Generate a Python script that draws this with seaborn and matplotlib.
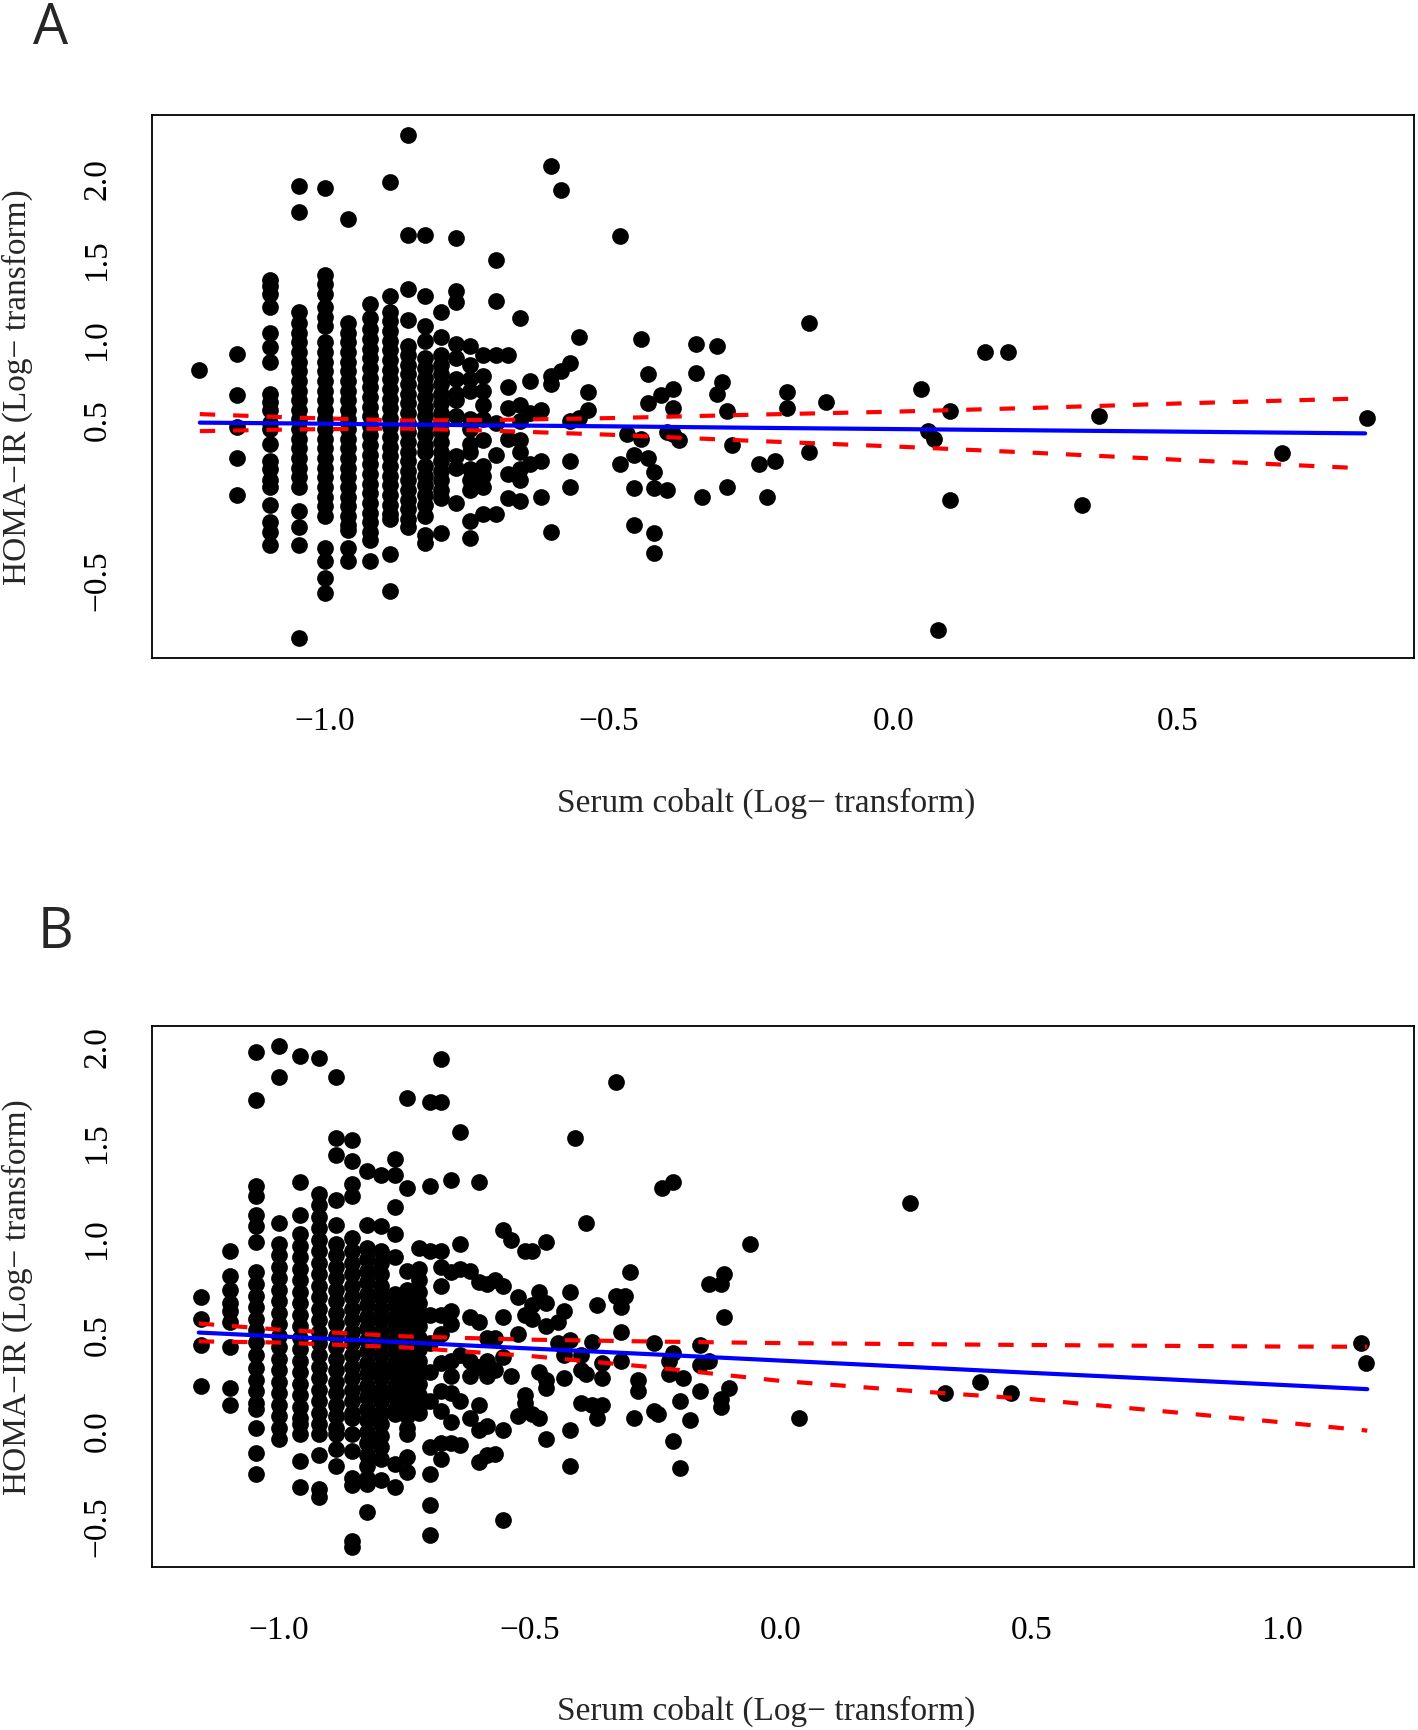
import numpy as np
import pandas as pd
import seaborn as sns
import matplotlib.pyplot as plt

sns.set_style("white")
plt.rcParams["font.family"] = ["Liberation Serif", "DejaVu Serif"]

# ---- Panel A: serum cobalt level (ug/L) and HOMA-IR (log) values at each level
a_cobalt = [0.06, 0.07, 0.08, 0.09, 0.10, 0.11, 0.12, 0.13, 0.14, 0.15, 0.16, 0.17,
            0.18, 0.19, 0.20, 0.21, 0.22, 0.23, 0.24, 0.25, 0.26, 0.27, 0.28, 0.29,
            0.33, 0.34, 0.35, 0.36, 0.37, 0.38, 0.39, 0.40, 0.41, 0.42, 0.45, 0.46,
            0.49, 0.50, 0.51, 0.52, 0.58, 0.60, 0.62, 0.65, 0.71, 0.76, 1.12, 1.15,
            1.18, 1.20, 1.26, 1.45, 1.59, 2.15, 2.30, 4.82, 6.82]
a_homa = [
    [0.81],
    [0.91, 0.65, 0.45, 0.26, 0.03],
    [1.37, 1.33, 1.28, 1.20, 1.04, 0.95, 0.86, 0.66, 0.61, 0.56, 0.48, 0.44, 0.35,
     0.24, 0.19, 0.12, 0.08, -0.03, -0.14, -0.20, -0.28],
    [1.95, 1.79, 1.17, 1.10, 1.04, 0.98, 0.92, 0.86, 0.80, 0.74, 0.68, 0.62, 0.56,
     0.50, 0.44, 0.38, 0.32, 0.26, 0.20, 0.14, 0.08, -0.07, -0.17, -0.28, -0.86],
    [1.94, 1.40, 1.34, 1.28, 1.20, 1.14, 1.08, 0.98, 0.92, 0.86, 0.80, 0.74, 0.68,
     0.62, 0.56, 0.50, 0.44, 0.38, 0.32, 0.26, 0.20, 0.14, 0.08, 0.02, -0.04, -0.10,
     -0.30, -0.38, -0.49, -0.58],
    [1.75, 1.10, 1.04, 0.98, 0.92, 0.86, 0.80, 0.74, 0.68, 0.62, 0.56, 0.50, 0.44,
     0.38, 0.32, 0.26, 0.20, 0.14, 0.08, 0.02, -0.04, -0.10, -0.16, -0.19, -0.30, -0.38],
    [1.22, 1.13, 1.06, 1.00, 0.94, 0.88, 0.82, 0.76, 0.70, 0.64, 0.58, 0.52, 0.46,
     0.40, 0.34, 0.28, 0.22, 0.16, 0.10, 0.04, -0.02, -0.08, -0.14, -0.20, -0.25, -0.38],
    [1.98, 1.27, 1.17, 1.11, 1.05, 0.99, 0.93, 0.87, 0.81, 0.75, 0.69, 0.63, 0.57,
     0.51, 0.45, 0.39, 0.33, 0.27, 0.21, 0.15, 0.09, 0.03, -0.03, -0.09, -0.12,
     -0.34, -0.57],
    [2.27, 1.65, 1.31, 1.12, 0.96, 0.90, 0.84, 0.78, 0.72, 0.66, 0.60, 0.54, 0.48,
     0.42, 0.36, 0.30, 0.24, 0.18, 0.12, 0.06, 0.00, -0.06, -0.12, -0.17],
    [1.65, 1.27, 1.08, 0.99, 0.88, 0.82, 0.76, 0.70, 0.64, 0.58, 0.52, 0.46, 0.40,
     0.34, 0.30, 0.21, 0.15, 0.09, 0.03, -0.03, -0.10, -0.22, -0.27],
    [1.17, 1.01, 0.90, 0.84, 0.78, 0.72, 0.66, 0.60, 0.54, 0.48, 0.42, 0.36, 0.30,
     0.24, 0.18, 0.12, 0.06, 0.01, -0.21],
    [1.63, 1.30, 1.23, 0.97, 0.88, 0.75, 0.66, 0.62, 0.52, 0.27, 0.20, -0.02],
    [0.96, 0.84, 0.75, 0.68, 0.50, 0.44, 0.35, 0.30, 0.19, 0.12, 0.06, -0.13, -0.24],
    [0.90, 0.77, 0.68, 0.59, 0.50, 0.37, 0.21, 0.15, 0.08, -0.09],
    [1.49, 1.24, 0.90, 0.48, 0.28, -0.09],
    [0.90, 0.70, 0.57, 0.38, 0.16, 0.01],
    [1.13, 0.59, 0.49, 0.37, 0.30, 0.19, 0.12, -0.01],
    [0.74, 0.54, 0.22],
    [0.56, 0.24, 0.02],
    [2.08, 0.77, 0.72, -0.20],
    [1.93, 0.80],
    [0.85, 0.49, 0.24, 0.08],
    [1.01, 0.51],
    [0.67, 0.56],
    [1.64, 0.22],
    [0.41],
    [0.28, 0.07, -0.16],
    [1.00, 0.38],
    [0.78, 0.60, 0.26],
    [0.17, 0.07, -0.21, -0.33],
    [0.65],
    [0.42, 0.06],
    [0.69, 0.57, 0.41],
    [0.37],
    [0.97, 0.79],
    [0.02],
    [0.96, 0.66],
    [0.73],
    [0.55, 0.08],
    [0.34],
    [0.22],
    [0.02],
    [0.24],
    [0.67, 0.57],
    [1.10, 0.30],
    [0.61],
    [0.69],
    [0.43],
    [0.38],
    [-0.81],
    [0.55, 0.00],
    [0.92],
    [0.92],
    [-0.03],
    [0.52],
    [0.29],
    [0.51],
]

# fitted line and 95% band for panel A
a_fit_x = [-1.22, -1.05, -0.86, -0.70, -0.50, -0.25, 0.00, 0.25, 0.50, 0.83]
a_fit = [0.480, 0.475, 0.468, 0.463, 0.457, 0.448, 0.440, 0.432, 0.424, 0.413]
a_upper = [0.533, 0.511, 0.493, 0.497, 0.508, 0.529, 0.548, 0.572, 0.599, 0.631]
a_lower = [0.427, 0.438, 0.443, 0.429, 0.405, 0.367, 0.332, 0.292, 0.249, 0.195]

# ---- Panel B
b_cobalt = [0.07, 0.08, 0.09, 0.10, 0.11, 0.12, 0.13, 0.14, 0.15, 0.16, 0.17, 0.18,
            0.19, 0.20, 0.21, 0.22, 0.23, 0.24, 0.25, 0.26, 0.27, 0.28, 0.29, 0.30,
            0.31, 0.32, 0.33, 0.34, 0.36, 0.37, 0.38, 0.39, 0.40, 0.41, 0.42, 0.43,
            0.44, 0.47, 0.48, 0.49, 0.50, 0.51, 0.52, 0.56, 0.57, 0.58, 0.60, 0.61,
            0.63, 0.64, 0.66, 0.69, 0.72, 0.76, 0.77, 0.79, 0.87, 1.09, 1.81, 2.13,
            2.50, 2.88, 14.4, 14.7]
b_homa = [
    [0.69, 0.58, 0.44, 0.23],
    [0.93, 0.80, 0.73, 0.66, 0.62, 0.56, 0.43, 0.22, 0.13],
    [1.97, 1.72, 1.27, 1.22, 1.12, 1.06, 0.98, 0.82, 0.76, 0.70, 0.64, 0.58, 0.52,
     0.46, 0.39, 0.32, 0.26, 0.20, 0.14, 0.11, 0.01, -0.12, -0.23],
    [2.00, 1.84, 1.08, 0.97, 0.91, 0.85, 0.79, 0.73, 0.67, 0.61, 0.55, 0.49, 0.43,
     0.37, 0.31, 0.25, 0.19, 0.13, 0.07, 0.01, -0.05],
    [1.95, 1.29, 1.12, 1.02, 0.96, 0.90, 0.84, 0.78, 0.72, 0.66, 0.60, 0.54, 0.48,
     0.42, 0.36, 0.30, 0.24, 0.18, 0.12, 0.06, 0.03, -0.02, -0.16, -0.30],
    [1.94, 1.23, 1.17, 1.11, 1.05, 0.99, 0.93, 0.87, 0.81, 0.75, 0.69, 0.63, 0.57,
     0.51, 0.45, 0.39, 0.33, 0.27, 0.21, 0.15, 0.09, 0.03, -0.02, -0.13, -0.31, -0.35],
    [1.84, 1.52, 1.43, 1.20, 1.07, 0.97, 0.91, 0.85, 0.79, 0.73, 0.67, 0.61, 0.55,
     0.49, 0.43, 0.37, 0.31, 0.25, 0.19, 0.13, 0.07, 0.01, -0.02, -0.10, -0.19],
    [1.51, 1.40, 1.28, 1.22, 1.00, 0.93, 0.87, 0.81, 0.75, 0.69, 0.63, 0.57, 0.51,
     0.45, 0.39, 0.33, 0.27, 0.21, 0.15, 0.09, 0.06, -0.02, -0.11, -0.25, -0.29,
     -0.58, -0.61],
    [1.35, 1.07, 0.95, 0.89, 0.83, 0.77, 0.71, 0.65, 0.59, 0.53, 0.47, 0.41, 0.35,
     0.29, 0.23, 0.17, 0.11, 0.05, -0.01, -0.07, -0.13, -0.19, -0.25, -0.28, -0.43],
    [1.33, 1.06, 0.93, 0.87, 0.81, 0.75, 0.69, 0.63, 0.57, 0.51, 0.45, 0.39, 0.33,
     0.27, 0.21, 0.15, 0.09, 0.03, -0.03, -0.09, -0.15, -0.26],
    [1.41, 1.33, 1.16, 1.02, 0.90, 0.71, 0.65, 0.59, 0.53, 0.47, 0.41, 0.35, 0.29,
     0.23, 0.17, 0.11, 0.08, -0.18, -0.30],
    [1.73, 1.26, 0.83, 0.73, 0.67, 0.61, 0.55, 0.49, 0.43, 0.37, 0.31, 0.25, 0.19,
     0.13, 0.07, 0.01, -0.02, -0.14, -0.22],
    [0.95, 0.84, 0.78, 0.72, 0.66, 0.60, 0.54, 0.48, 0.42, 0.36, 0.30, 0.24, 0.18,
     0.12, 0.09],
    [1.71, 1.27, 0.93, 0.60, 0.45, 0.30, 0.15, -0.09, -0.23, -0.39, -0.55],
    [1.93, 1.71, 0.93, 0.85, 0.75, 0.60, 0.50, 0.35, 0.20, 0.10, -0.07, -0.15],
    [1.30, 0.82, 0.62, 0.55, 0.36, 0.28, 0.19, 0.04, -0.07],
    [1.55, 0.97, 0.84, 0.39, 0.15, -0.08],
    [0.83, 0.59, 0.36, 0.28, 0.06],
    [1.29, 0.77, 0.56, 0.33, 0.13, 0.00, -0.17],
    [0.76, 0.48, 0.36, 0.28, 0.02, -0.13],
    [0.78, 0.48, 0.31, -0.125],
    [1.04, 0.75, 0.59, 0.38, 0.00, -0.47],
    [0.99, 0.28],
    [0.69, 0.50, 0.07],
    [0.93, 0.60, 0.18, 0.14],
    [0.93, 0.65, 0.58, 0.08],
    [0.72, 0.30, 0.06],
    [0.98, 0.66, 0.54, 0.26, 0.22, -0.05],
    [0.56, 0.45],
    [0.62, 0.39, 0.27],
    [0.72, 0.47, 0.00, -0.19],
    [1.52],
    [0.39, 0.31, 0.14],
    [1.08, 0.29],
    [0.46, 0.13],
    [0.65, 0.06],
    [0.35, 0.27, 0.13],
    [1.81, 0.70],
    [0.64, 0.51, 0.36],
    [0.70],
    [0.82],
    [0.06],
    [0.26, 0.20],
    [0.45, 0.10],
    [0.08],
    [1.26],
    [0.36, 0.29],
    [1.29, 0.40, -0.06],
    [0.15, -0.20],
    [0.27],
    [0.05],
    [0.44, 0.34, 0.20],
    [0.76, 0.36],
    [0.76, 0.16, 0.12],
    [0.81, 0.59],
    [0.22],
    [0.97],
    [0.06],
    [1.18],
    [0.19],
    [0.25],
    [0.19],
    [0.45],
    [0.35],
]

b_fit_x = [-1.16, -1.00, -0.75, -0.50, -0.25, 0.00, 0.25, 0.50, 0.75, 1.00, 1.17]
b_fit = [0.507, 0.487, 0.456, 0.424, 0.393, 0.361, 0.329, 0.297, 0.266, 0.234, 0.212]
b_upper = [0.554, 0.522, 0.487, 0.470, 0.460, 0.452, 0.447, 0.442, 0.438, 0.434, 0.433]
b_lower = [0.461, 0.455, 0.430, 0.385, 0.325, 0.255, 0.205, 0.160, 0.100, 0.039, -0.004]

a_xticks = [-1.0, -0.5, 0.0, 0.5]
a_xticklabels = ["\u22121.0", "\u22120.5", "0.0", "0.5"]
a_yticks = [2.0, 1.5, 1.0, 0.5, 0.0, -0.5]
a_yticklabels = ["2.0", "1.5", "1.0", "0.5", "", "\u22120.5"]
b_xticks = [-1.0, -0.5, 0.0, 0.5, 1.0]
b_xticklabels = ["\u22121.0", "\u22120.5", "0.0", "0.5", "1.0"]
b_yticks = [2.0, 1.5, 1.0, 0.5, 0.0, -0.5]
b_yticklabels = ["2.0", "1.5", "1.0", "0.5", "0.0", "\u22120.5"]


def to_frame(cobalt, homa):
    rows = []
    for c, ys in zip(cobalt, homa):
        for y in ys:
            rows.append((np.log10(c), y))
    return pd.DataFrame(rows, columns=["cobalt_log", "homa_log"])


def draw_panel(ax, df, fit_x, fit, upper, lower, xticks, xlabels, yticks, ylabels):
    sns.scatterplot(df, x="cobalt_log", y="homa_log", ax=ax, color="black",
                    s=145, linewidth=0, zorder=2)
    for band in (upper, lower):
        sns.lineplot(x=fit_x, y=band, ax=ax, color="#FF0000", lw=3,
                     linestyle=(0, (3.7, 4.3)), estimator=None, sort=False, zorder=3)
    sns.lineplot(x=fit_x, y=fit, ax=ax, color="#0000FF", lw=3,
                 estimator=None, sort=False, zorder=4)
    ax.margins(x=0.04, y=0.04)
    ax.set_xticks(xticks)
    ax.set_xticklabels(xlabels)
    ax.set_yticks(yticks)
    ax.set_yticklabels(ylabels, rotation=90, va="center")
    ax.tick_params(axis="both", length=14.4, width=1.0, color="black",
                   labelsize=24, labelcolor="black", direction="out")
    ax.tick_params(axis="x", pad=20)
    ax.tick_params(axis="y", pad=14)
    for sp in ax.spines.values():
        sp.set_color("black")
        sp.set_linewidth(1.3)
    ax.set_xlabel("Serum cobalt (Log\u2212 transform)", fontsize=24, va="center")
    ax.set_ylabel("HOMA\u2212IR (Log\u2212 transform)", fontsize=24, va="center")
    ax.xaxis.set_label_coords(0.487, -0.265)
    ax.yaxis.set_label_coords(-0.107, 0.5)


fig = plt.figure(figsize=(14.18, 17.31), dpi=100)
ax_a = fig.add_axes([0.1072, 0.6193, 0.8900, 0.3137])
ax_b = fig.add_axes([0.1072, 0.0942, 0.8900, 0.3125])

draw_panel(ax_a, to_frame(a_cobalt, a_homa), a_fit_x, a_fit, a_upper, a_lower,
           a_xticks, a_xticklabels, a_yticks, a_yticklabels)
draw_panel(ax_b, to_frame(b_cobalt, b_homa), b_fit_x, b_fit, b_upper, b_lower,
           b_xticks, b_xticklabels, b_yticks, b_yticklabels)

fig.text(33 / 1418, 1 - 44 / 1731, "A", fontsize=40, family=["Open Sans", "DejaVu Sans"],
         ha="left", va="baseline")
fig.text(38 / 1418, 1 - 948 / 1731, "B", fontsize=40, family=["Open Sans", "DejaVu Sans"],
         ha="left", va="baseline")

fig.savefig("out.png", dpi=100, facecolor="white")
